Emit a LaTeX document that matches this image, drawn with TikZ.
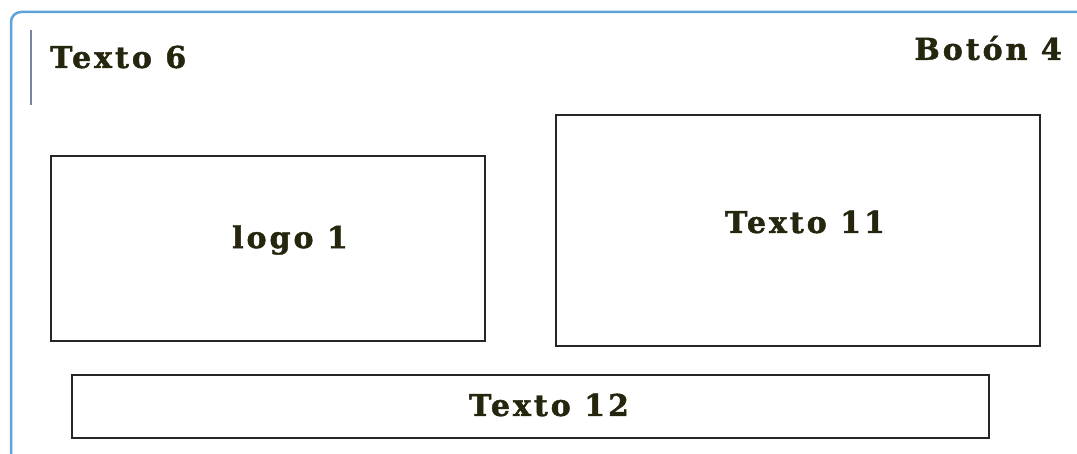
\documentclass[tikz,border=0pt]{standalone}
\usepackage{fontspec}
\setmainfont{DejaVu Serif}
\newfontfamily\rotulofont[LetterSpace=10,FakeBold=1.5]{DejaVu Serif Bold}
\definecolor{marco}{HTML}{5FA3DA}
\definecolor{cursor}{HTML}{7584A0}
\definecolor{tinta}{HTML}{26260E}
\tikzset{caja/.style={draw=black!85, line width=1.6pt},
  rotulo/.style={text=tinta, font=\rotulofont\fontsize{30}{32}\selectfont, inner sep=0pt}}
\begin{document}
\begin{tikzpicture}[x=1pt,y=-1pt]
\useasboundingbox (0,0) rectangle (1077,454);
\fill[white] (0,0) rectangle (1077,454);
\draw[marco, line width=2.5pt, rounded corners=10](1077,12)--(11,12)--(11,454);
\draw[cursor, line width=1.5pt](31,30)--(31,105);
% cajas
\draw[caja](51,156)rectangle(485,341);
\draw[caja](556,115)rectangle(1040,346);
\draw[caja](72,375)rectangle(989,438);
% textos
\node[rotulo, anchor=west] (texto6) at (50,57) {Texto 6};
\node[rotulo, anchor=east] (boton4) at (1062,48) {Botón 4};
\node[rotulo] (logo1) at (290,240) {logo 1};
\node[rotulo] (texto11) at (805,222) {Texto 11};
\node[rotulo] (texto12) at (549,405) {Texto 12};
\end{tikzpicture}
\end{document}
